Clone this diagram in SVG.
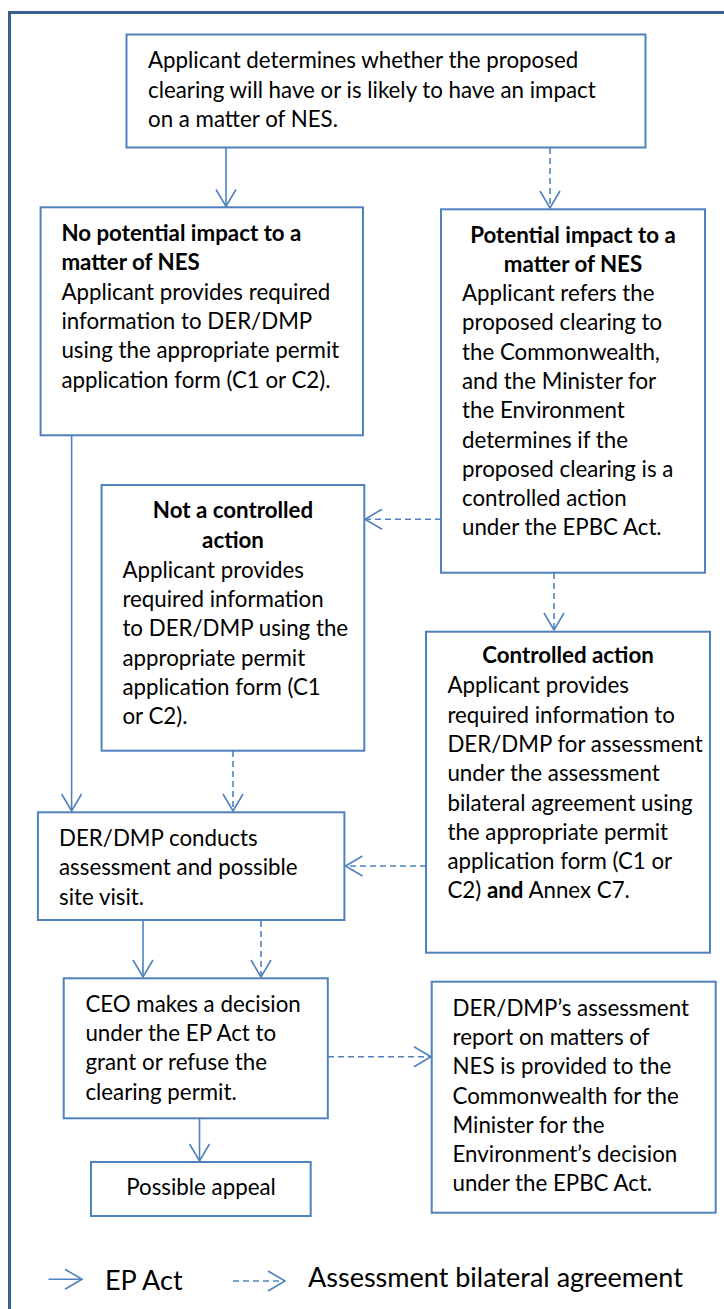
<svg xmlns="http://www.w3.org/2000/svg" width="724" height="1309" viewBox="0 0 724 1309">
<style>
.box{fill:#fff;stroke:#4F81BD;stroke-width:2}
.t{font-family:Lato,"Liberation Sans",sans-serif;font-size:22.3px;fill:#000}
.b{font-weight:bold}
.c{text-anchor:middle}
.lg{font-size:27px}
.con{stroke:#4F81BD;stroke-width:1.6;fill:none}
.dash{stroke-dasharray:6 4}
</style>
<defs>
<marker id="ah" markerUnits="userSpaceOnUse" markerWidth="24" markerHeight="24" viewBox="-19 -12 21 24" refX="0" refY="0" orient="auto">
<path d="M-17,-10 L0,0 L-17,10" fill="none" stroke="#4F81BD" stroke-width="1.6"/>
</marker>
</defs>
<rect x="0" y="0" width="724" height="1309" fill="#fff"/>
<rect id="frame" x="9.5" y="12.5" width="740" height="1320" fill="none" stroke="#3A5F8E" stroke-width="3"/>

<g id="connectors">
<line class="con" x1="226" y1="148" x2="226" y2="206.5" marker-end="url(#ah)"/>
<line class="con dash" x1="550" y1="148" x2="550" y2="208" marker-end="url(#ah)"/>
<line class="con dash" x1="441" y1="519.3" x2="365" y2="519.3" marker-end="url(#ah)"/>
<line class="con dash" x1="554" y1="573" x2="554" y2="630" marker-end="url(#ah)"/>
<line class="con" x1="71.6" y1="436" x2="71.6" y2="811" marker-end="url(#ah)"/>
<line class="con dash" x1="233" y1="751" x2="233" y2="811" marker-end="url(#ah)"/>
<line class="con dash" x1="426" y1="866" x2="345.5" y2="866" marker-end="url(#ah)"/>
<line class="con" x1="143" y1="920" x2="143" y2="977" marker-end="url(#ah)"/>
<line class="con dash" x1="261" y1="921" x2="261" y2="977" marker-end="url(#ah)"/>
<line class="con dash" x1="328" y1="1056.7" x2="431" y2="1056.7" marker-end="url(#ah)"/>
<line class="con" x1="199.5" y1="1118" x2="199.5" y2="1161" marker-end="url(#ah)"/>
</g>

<g id="n-top">
<rect class="box" x="126.5" y="34.5" width="519" height="113"/>
<text class="t" x="148" y="68">Applicant determines whether the proposed</text>
<text class="t" x="148" y="97.5">clearing will have or is likely to have an impact</text>
<text class="t" x="148" y="127">on a matter of NES.</text>
</g>

<g id="n-noimpact">
<rect class="box" x="40.6" y="207.3" width="322.4" height="228"/>
<text class="t b" x="61.4" y="241">No potential impact to a</text>
<text class="t b" x="61.4" y="270.3">matter of NES</text>
<text class="t" x="61.4" y="299.6">Applicant provides required</text>
<text class="t" x="61.4" y="328.9">information to DER/DMP</text>
<text class="t" x="61.4" y="358.2">using the appropriate permit</text>
<text class="t" x="61.4" y="387.5">application form (C1 or C2).</text>
</g>

<g id="n-impact">
<rect class="box" x="441" y="209.3" width="264" height="363.4"/>
<text class="t b c" x="573" y="242.7">Potential impact to a</text>
<text class="t b c" x="573" y="271.7">matter of NES</text>
<text class="t" x="462" y="301">Applicant refers the</text>
<text class="t" x="462" y="330.3">proposed clearing to</text>
<text class="t" x="462" y="359.6">the Commonwealth,</text>
<text class="t" x="462" y="388.9">and the Minister for</text>
<text class="t" x="462" y="418.2">the Environment</text>
<text class="t" x="462" y="447.5">determines if the</text>
<text class="t" x="462" y="476.8">proposed clearing is a</text>
<text class="t" x="462" y="506.1">controlled action</text>
<text class="t" x="462" y="535.4">under the EPBC Act.</text>
</g>

<g id="n-notcontrolled">
<rect class="box" x="101.6" y="485" width="262.7" height="265.7"/>
<text class="t b c" x="233" y="518.3">Not a controlled</text>
<text class="t b c" x="233" y="548.3">action</text>
<text class="t" x="122.4" y="577.7">Applicant provides</text>
<text class="t" x="122.4" y="607">required information</text>
<text class="t" x="122.4" y="636.3">to DER/DMP using the</text>
<text class="t" x="122.4" y="665.6">appropriate permit</text>
<text class="t" x="122.4" y="694.9">application form (C1</text>
<text class="t" x="122.4" y="724">or C2).</text>
</g>

<g id="n-controlled">
<rect class="box" x="426" y="631.7" width="284" height="321"/>
<text class="t b c" x="568" y="663.3">Controlled action</text>
<text class="t" x="447.4" y="693.3">Applicant provides</text>
<text class="t" x="447.4" y="722.6">required information to</text>
<text class="t" x="447.4" y="751.9">DER/DMP for assessment</text>
<text class="t" x="447.4" y="781.2">under the assessment</text>
<text class="t" x="447.4" y="810.5">bilateral agreement using</text>
<text class="t" x="447.4" y="839.8">the appropriate permit</text>
<text class="t" x="447.4" y="869.1">application form (C1 or</text>
<text class="t" x="447.4" y="898.4">C2) <tspan class="b">and</tspan> Annex C7.</text>
</g>

<g id="n-assess">
<rect class="box" x="37.9" y="812.3" width="306.5" height="107.7"/>
<text class="t" x="59" y="846">DER/DMP conducts</text>
<text class="t" x="59" y="875.3">assessment and possible</text>
<text class="t" x="59" y="904.6">site visit.</text>
</g>

<g id="n-ceo">
<rect class="box" x="63.7" y="978.3" width="264.1" height="140"/>
<text class="t" x="85.4" y="1011.7">CEO makes a decision</text>
<text class="t" x="85.4" y="1041">under the EP Act to</text>
<text class="t" x="85.4" y="1070.3">grant or refuse the</text>
<text class="t" x="85.4" y="1099.6">clearing permit.</text>
</g>

<g id="n-report">
<rect class="box" x="431.7" y="981.7" width="284" height="231"/>
<text class="t" x="452.5" y="1016">DER/DMP’s assessment</text>
<text class="t" x="452.5" y="1045.2">report on matters of</text>
<text class="t" x="452.5" y="1074.4">NES is provided to the</text>
<text class="t" x="452.5" y="1103.6">Commonwealth for the</text>
<text class="t" x="452.5" y="1132.8">Minister for the</text>
<text class="t" x="452.5" y="1162">Environment’s decision</text>
<text class="t" x="452.5" y="1191">under the EPBC Act.</text>
</g>

<g id="n-appeal">
<rect class="box" x="91" y="1162" width="219.7" height="54"/>
<text class="t c" x="201" y="1195">Possible appeal</text>
</g>

<g id="legend">
<line class="con" x1="48.5" y1="1279.3" x2="82" y2="1279.3" marker-end="url(#ah)"/>
<text class="t lg" x="105" y="1290">EP Act</text>
<line class="con dash" x1="233" y1="1281" x2="285" y2="1281" marker-end="url(#ah)"/>
<text class="t lg" x="308" y="1287">Assessment bilateral agreement</text>
</g>
</svg>
